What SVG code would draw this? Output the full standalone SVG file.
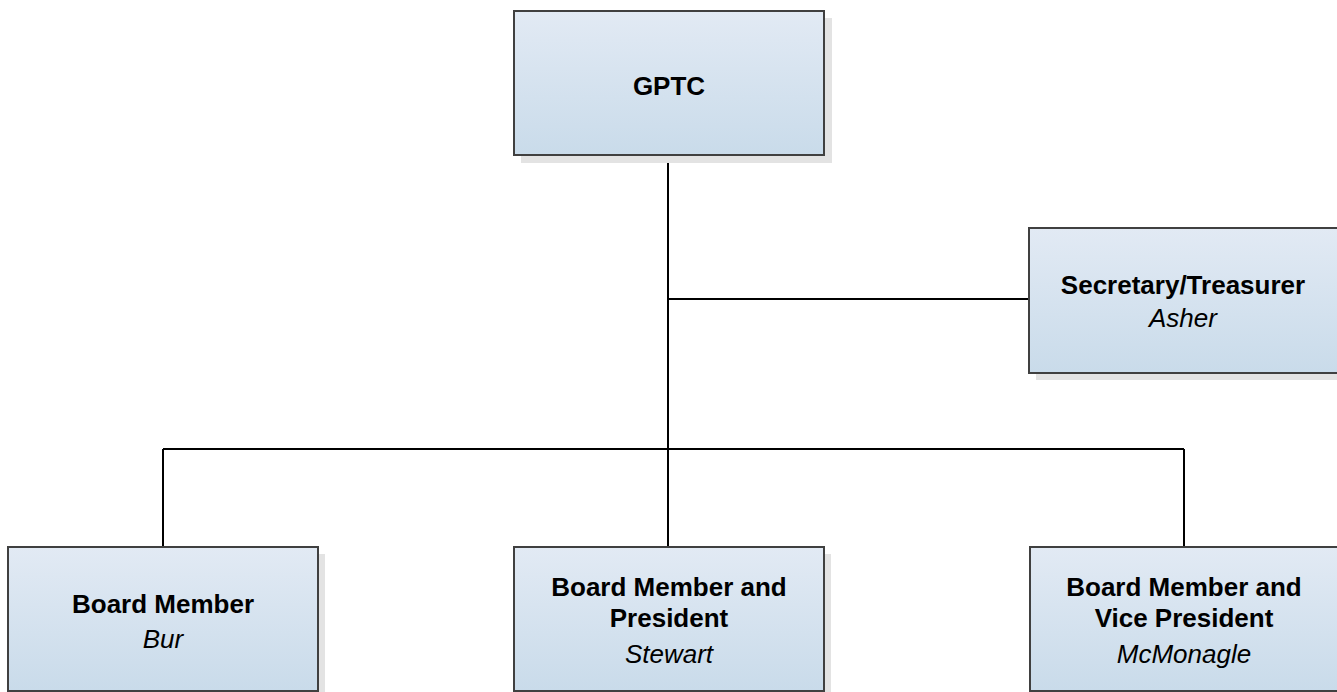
<svg xmlns="http://www.w3.org/2000/svg" width="1337" height="692" viewBox="0 0 1337 692">
<defs>
<linearGradient id="fill" x1="0" y1="0" x2="0" y2="1">
<stop offset="0" stop-color="#e2eaf4"/>
<stop offset="1" stop-color="#c9dbea"/>
</linearGradient>
<style>
.box{fill:url(#fill);stroke:#404040;stroke-width:2}
.shadow{fill:#e3e3e3}
.b{font-family:"Liberation Sans",Arial,sans-serif;font-weight:bold;font-size:26px;fill:#000;text-anchor:middle}
.i{font-family:"Liberation Sans",Arial,sans-serif;font-style:italic;font-size:26px;fill:#000;text-anchor:middle}
.c{fill:none;stroke:#000;stroke-width:2}
</style>
</defs>
<g id="connectors">
<path class="c" d="M668 155V449"/>
<path class="c" d="M668 299H1029"/>
<path class="c" d="M163 449H1184"/>
<path class="c" d="M163 449V547"/>
<path class="c" d="M668 449V547"/>
<path class="c" d="M1184 449V547"/>
</g>
<g id="gptc">
<rect class="shadow" x="521" y="18" width="311" height="145"/>
<rect class="box" x="514" y="11" width="310" height="144"/>
<text class="b" x="669" y="95">GPTC</text>
</g>
<g id="secretary">
<rect class="shadow" x="1036" y="235" width="310" height="145"/>
<rect class="box" x="1029" y="228" width="310" height="145"/>
<text class="b" x="1183" y="294">Secretary/Treasurer</text>
<text class="i" x="1183" y="327">Asher</text>
</g>
<g id="bur">
<rect class="shadow" x="15" y="554" width="310" height="145"/>
<rect class="box" x="8" y="547" width="310" height="144"/>
<text class="b" x="163" y="613">Board Member</text>
<text class="i" x="163" y="648">Bur</text>
</g>
<g id="stewart">
<rect class="shadow" x="521" y="554" width="310" height="145"/>
<rect class="box" x="514" y="547" width="310" height="144"/>
<text class="b" x="669" y="596">Board Member and</text>
<text class="b" x="669" y="627">President</text>
<text class="i" x="669" y="663">Stewart</text>
</g>
<g id="mcmonagle">
<rect class="shadow" x="1037" y="554" width="310" height="145"/>
<rect class="box" x="1030" y="547" width="310" height="144"/>
<text class="b" x="1184" y="596">Board Member and</text>
<text class="b" x="1184" y="627">Vice President</text>
<text class="i" x="1184" y="663">McMonagle</text>
</g>
</svg>
